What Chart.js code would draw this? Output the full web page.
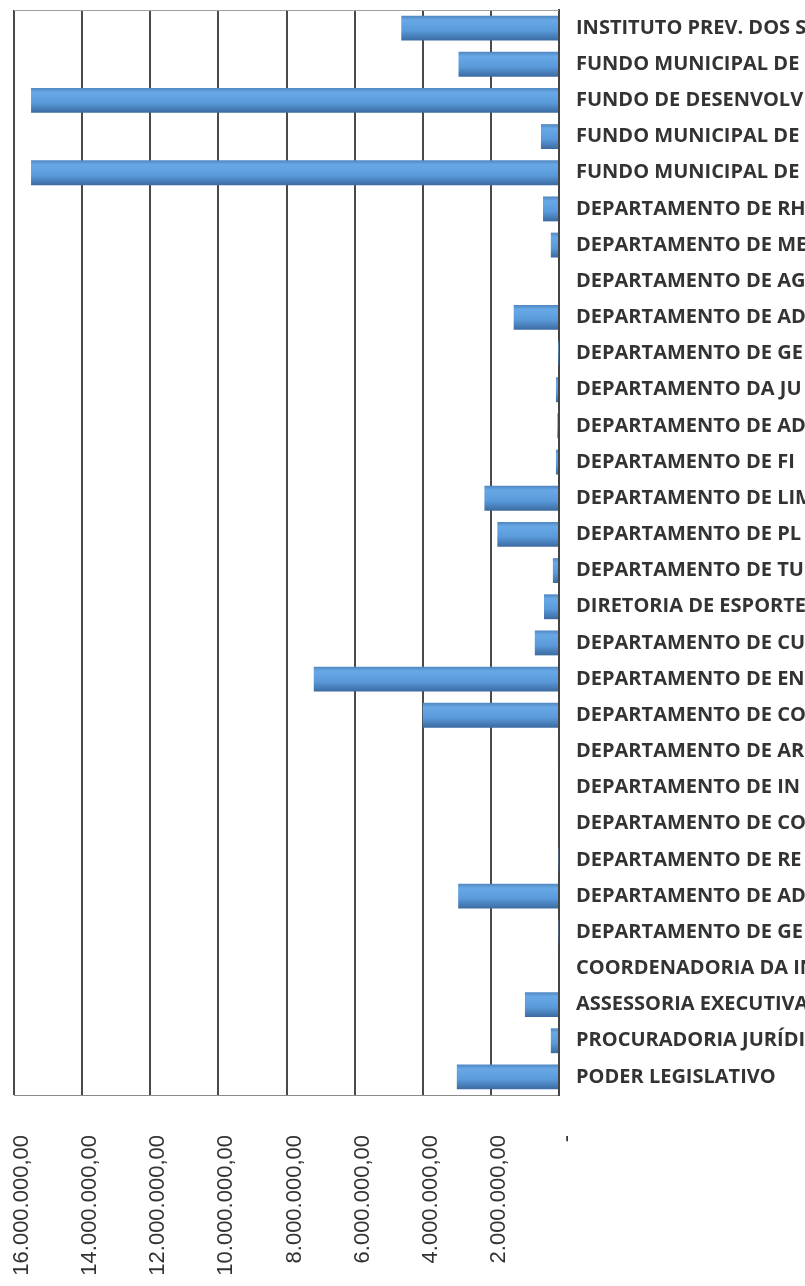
<!DOCTYPE html>
<html>
<head>
<meta charset="utf-8">
<script src="https://cdn.jsdelivr.net/npm/chart.js@4.4.1/dist/chart.umd.min.js"></script>
<style>
  body { margin: 0; background: #fff; }
  #wrap { width: 805px; height: 1286px; position: relative; }
</style>
</head>
<body>
<div id="wrap"><canvas id="orcamentoChart"></canvas></div>
<script>
// categories, top to bottom as in the printed chart
let orgaos = [
  'INSTITUTO PREV. DOS SE',
  'FUNDO MUNICIPAL DE',
  'FUNDO DE DESENVOLVI',
  'FUNDO MUNICIPAL DE',
  'FUNDO MUNICIPAL DE',
  'DEPARTAMENTO DE RH',
  'DEPARTAMENTO DE ME',
  'DEPARTAMENTO DE AG',
  'DEPARTAMENTO DE AD',
  'DEPARTAMENTO DE GE',
  'DEPARTAMENTO DA JU',
  'DEPARTAMENTO DE AD',
  'DEPARTAMENTO DE FI',
  'DEPARTAMENTO DE LIM',
  'DEPARTAMENTO DE PL',
  'DEPARTAMENTO DE TU',
  'DIRETORIA DE ESPORTE',
  'DEPARTAMENTO DE CU',
  'DEPARTAMENTO DE EN',
  'DEPARTAMENTO DE CO',
  'DEPARTAMENTO DE AR',
  'DEPARTAMENTO DE IN',
  'DEPARTAMENTO DE CO',
  'DEPARTAMENTO DE RE',
  'DEPARTAMENTO DE AD',
  'DEPARTAMENTO DE GE',
  'COORDENADORIA DA IN',
  'ASSESSORIA EXECUTIVA',
  'PROCURADORIA JURÍDICA',
  'PODER LEGISLATIVO'
];

// values in R$
let valores = [
  4630000, 2950000, 15500000, 530000, 15500000,
  470000, 240000, 0, 1330000, 10000,
  90000, 50000, 90000, 2190000, 1810000,
  180000, 440000, 710000, 7200000, 4000000,
  30000, 0, 0, 20000, 2960000,
  20000, 0, 1000000, 240000, 3000000
];

// x axis ticks
let tickMin = 0;
let tickMax = 16000000;
let tickStep = 2000000;

function formatReal(v) {
  if (v === 0) return '-';
  let s = Math.round(v).toString().replace(/\B(?=(\d{3})+(?!\d))/g, '.');
  return s + ',00';
}

let bordaTopo = {
  id: 'bordaTopo',
  afterDraw(chart) {
    let ctx = chart.ctx, a = chart.chartArea;
    ctx.save();
    ctx.strokeStyle = '#a0a0a0';
    ctx.lineWidth = 1;
    ctx.beginPath();
    ctx.moveTo(a.left, a.top + 0.5);
    ctx.lineTo(a.right, a.top + 0.5);
    ctx.stroke();
    ctx.restore();
  }
};

let orcamentoCtx = document.getElementById('orcamentoChart').getContext('2d');
let orcamentoChart = new Chart(orcamentoCtx, {
  type: 'bar',
  data: {
    labels: orgaos,
    datasets: [{
      label: 'Orçamento',
      data: valores,
      barPercentage: 0.86,
      categoryPercentage: 0.8,
      borderWidth: 0,
      backgroundColor: function(context) {
        let chart = context.chart;
        if (!chart.chartArea || context.type !== 'data') return '#5b9bd5';
        let y = chart.scales.y.getPixelForValue(context.dataIndex);
        let g = chart.ctx.createLinearGradient(0, y - 12.5, 0, y + 12.5);
        g.addColorStop(0, '#4f86c0');
        g.addColorStop(0.18, '#68a8e6');
        g.addColorStop(0.6, '#5a9adb');
        g.addColorStop(1, '#3b6aa0');
        return g;
      }
    }]
  },
  options: {
    indexAxis: 'y',
    responsive: true,
    maintainAspectRatio: false,
    animation: false,
    layout: { padding: { left: 14, top: 10, right: 0, bottom: 8 } },
    plugins: {
      legend: { display: false },
      tooltip: { enabled: false }
    },
    scales: {
      x: {
        reverse: true,
        min: tickMin,
        max: tickMax,
        afterFit: function(scale) {
          scale.height = 183;
          scale.paddingLeft = 0;
          scale.paddingRight = 0;
        },
        ticks: {
          stepSize: tickStep,
          minRotation: 90,
          maxRotation: 90,
          padding: 40,
          labelOffset: 8,
          color: '#333',
          font: { family: '"Liberation Sans", Arial, sans-serif', size: 22 },
          callback: function(v) { return formatReal(v); }
        },
        grid: { color: '#4a4a4a', lineWidth: 2, drawTicks: false },
        border: { display: true, color: '#8a8a8a', width: 1 }
      },
      y: {
        position: 'right',
        afterFit: function(scale) {
          scale.width = 246;
          scale.paddingTop = 0;
          scale.paddingBottom = 0;
        },
        ticks: {
          padding: 17,
          autoSkip: false,
          color: '#333',
          font: { family: '"Open Sans", sans-serif', size: 20, weight: 'bold' }
        },
        grid: { display: false, drawTicks: false },
        border: { display: true, color: '#444', width: 2 }
      }
    }
  },
  plugins: [bordaTopo]
});
</script>
</body>
</html>
